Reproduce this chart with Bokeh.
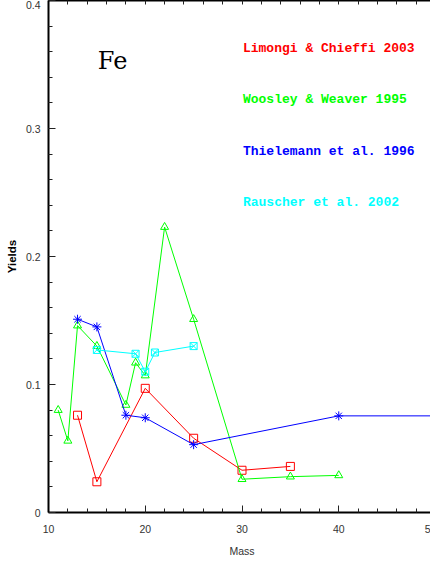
from bokeh.plotting import figure
from bokeh.models import LinearAxis, FixedTicker, Label, Range1d, GlobalInlineStyleSheet
from bokeh.embed import file_html
from bokeh.resources import INLINE

# ---- data ----
lc_mass = [13, 15, 20, 25, 30, 35]
lc_yield = [0.076, 0.024, 0.097, 0.058, 0.033, 0.036]

ww_mass = [11, 12, 13, 15, 18, 19, 20, 22, 25, 30, 35, 40]
ww_yield = [0.080, 0.056, 0.146, 0.130, 0.084, 0.117, 0.107, 0.223, 0.151, 0.026, 0.028, 0.029]

th_mass = [13, 15, 18, 20, 25, 40, 60]
th_yield = [0.151, 0.145, 0.076, 0.074, 0.053, 0.0755, 0.0755]

ra_mass = [15, 19, 20, 21, 25]
ra_yield = [0.127, 0.124, 0.110, 0.125, 0.130]

series_names = ["Limongi & Chieffi 2003", "Woosley & Weaver 1995",
                "Thielemann et al. 1996", "Rauscher et al. 2002"]
series_colors = ["#ff0000", "#00ff00", "#0000ff", "#00ffff"]

x_ticks = [10, 20, 30, 40, 50]
x_tick_labels = ["10", "20", "30", "40", "50"]
y_ticks = [0, 0.1, 0.2, 0.3, 0.4]
y_tick_labels = ["0", "0.1", "0.2", "0.3", "0.4"]
x_minor = [10 + 2 * i for i in range(21)]
y_minor = [round(0.02 * i, 2) for i in range(21)]

element = "Fe"

TICK_FONT = "Liberation Sans"
TICK_SIZE = "10.5px"
TICK_COLOR = "#333333"

# ---- figure ----
# The original is cut at the right page edge (the "50" label is half visible),
# so the canvas runs a few pixels past the window and the page does not scroll.
p = figure(width=436, height=563, output_backend="svg", toolbar_location=None,
           x_range=Range1d(10, 50), y_range=Range1d(0, 0.4),
           min_border_left=48, min_border_right=1, min_border_top=0, min_border_bottom=51,
           x_axis_label="Mass", y_axis_label="Yields",
           stylesheets=[GlobalInlineStyleSheet(css="html, body { overflow: hidden; }")])
p.outline_line_color = None
p.grid.visible = False
p.background_fill_color = "white"
p.border_fill_color = "white"


def style_axis(ax, ticks, minor, labels):
    ax.ticker = FixedTicker(ticks=ticks, minor_ticks=minor)
    ax.axis_line_color = "black"
    ax.axis_line_width = 2
    ax.major_tick_in = 7
    ax.major_tick_out = 0
    ax.minor_tick_in = 4
    ax.minor_tick_out = 0
    ax.major_tick_line_color = "#222222"
    ax.minor_tick_line_color = "#222222"
    ax.major_label_overrides = {t: l for t, l in zip(ticks, labels)}
    ax.major_label_text_font = TICK_FONT
    ax.major_label_text_font_size = TICK_SIZE
    ax.major_label_text_color = TICK_COLOR


def frame_axis(ax, ticks):
    # tick marks only (top / right side of the box)
    ax.ticker = FixedTicker(ticks=ticks, minor_ticks=[])
    ax.axis_line_color = "black"
    ax.axis_line_width = 2
    ax.major_tick_in = 4
    ax.major_tick_out = 0
    ax.minor_tick_out = 0
    ax.major_tick_line_color = "#222222"
    ax.major_label_overrides = {t: "" for t in ticks}
    ax.major_label_text_font_size = "0px"
    ax.major_label_standoff = 0


xa = p.xaxis[0]
ya = p.yaxis[0]
style_axis(xa, x_ticks, x_minor, x_tick_labels)
style_axis(ya, y_ticks, y_minor, y_tick_labels)
xa.major_label_standoff = 12
ya.major_label_standoff = 8
ya.major_label_orientation = "horizontal"

xa.axis_label_text_font = "Liberation Sans"
xa.axis_label_text_font_size = "10.5px"
xa.axis_label_text_font_style = "normal"
xa.axis_label_text_color = "#333333"
xa.axis_label_standoff = 9

ya.axis_label_text_font = "Liberation Sans"
ya.axis_label_text_font_size = "11.5px"
ya.axis_label_text_font_style = "bold"
ya.axis_label_text_color = "black"
ya.axis_label_standoff = 5

top = LinearAxis()
frame_axis(top, x_minor)
p.add_layout(top, "above")
right = LinearAxis()
frame_axis(right, y_minor)
p.add_layout(right, "right")

# ---- series ----
p.line(lc_mass, lc_yield, line_color=series_colors[0], line_width=1)
p.scatter(lc_mass, lc_yield, marker="square", size=8, fill_color=None,
          line_color=series_colors[0], line_width=1)

p.line(ww_mass, ww_yield, line_color=series_colors[1], line_width=1)
p.scatter(ww_mass, ww_yield, marker="triangle", size=8, fill_color=None,
          line_color=series_colors[1], line_width=1)

p.line(th_mass, th_yield, line_color=series_colors[2], line_width=1)
p.scatter(th_mass, th_yield, marker="asterisk", size=9,
          line_color=series_colors[2], line_width=1)

p.line(ra_mass, ra_yield, line_color=series_colors[3], line_width=1)
p.scatter(ra_mass, ra_yield, marker="square_x", size=7, fill_color=None,
          line_color=series_colors[3], line_width=1)

# ---- annotations ----
p.add_layout(Label(x=15.1, y=0.3527, text=element, text_font="DejaVu Serif",
                   text_font_size="24px", text_color="black",
                   text_baseline="alphabetic"))

legend_y = [0.3624, 0.3225, 0.2822, 0.2422]
for name, col, yy in zip(series_names, series_colors, legend_y):
    p.add_layout(Label(x=30.1, y=yy, text=name, text_font="Liberation Mono",
                       text_font_size="13px", text_font_style="bold",
                       text_color=col, text_baseline="alphabetic"))

open("out.html", "w").write(file_html(p, INLINE))
